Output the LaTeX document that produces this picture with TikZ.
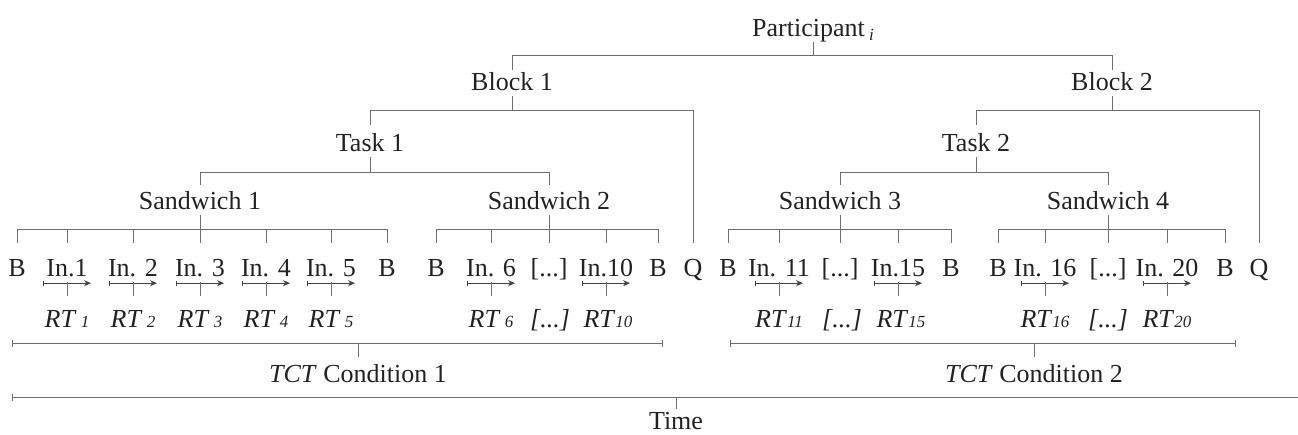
\documentclass[tikz,border=0pt]{standalone}
\usepackage{fontspec}
\setmainfont{Liberation Serif}
\usepackage{xcolor}
\usetikzlibrary{arrows.meta}

\definecolor{txtgray}{HTML}{222222}
\definecolor{linegray}{HTML}{6E6E6E}

\newcommand{\rtsize}{\fontsize{17}{20}\selectfont}
\newcommand{\rt}[1]{\textit{RT}{\rtsize\itshape#1}}

\begin{document}
\begin{tikzpicture}[x=1pt, y=-1pt,
    lbl/.style={inner sep=0pt, anchor=base, text height=18pt, text depth=6pt,
      font=\fontsize{26}{30}\selectfont, text=txtgray},
    tree/.style={draw=linegray, line width=0.9pt},
    rtarrow/.style={draw=txtgray!85, line width=0.8pt,
      {Bar[width=5pt,line width=0.7pt]}-{Stealth[length=7pt,width=6pt]}},
    span/.style={draw=linegray, line width=0.9pt,
      {Bar[width=7pt,line width=0.8pt]}-{Bar[width=7pt,line width=0.8pt]}}]
      \useasboundingbox (0,0) rectangle (1298,434);

      % Upper levels of the design
      \node[lbl] (par) at (813,36) {Participant\,\raisebox{-4pt}{\rtsize\itshape i}};
      \node[lbl] (blk1) at (512,90) {Block 1};
      \node[lbl] (blk2) at (1112,90) {Block 2};
      \node[lbl] (task1) at (370,151) {Task 1};
      \node[lbl] (task2) at (976,151) {Task 2};
      \node[lbl] (san1) at (200,209) {Sandwich 1};
      \node[lbl] (san2) at (549,209) {Sandwich 2};
      \node[lbl] (san3) at (840,209) {Sandwich 3};
      \node[lbl] (san4) at (1108,209) {Sandwich 4};

      % Trials, breaks and questionnaires
      \node[lbl] (b1) at (17,276) {B};
      \node[lbl] (in1) at (67,276) {In.1};
      \node[lbl] (in2) at (133,276) {In. 2};
      \node[lbl] (in3) at (200,276) {In. 3};
      \node[lbl] (in4) at (266,276) {In. 4};
      \node[lbl] (in5) at (331,276) {In. 5};
      \node[lbl] (b2) at (387,276) {B};

      \node[lbl] (b3) at (436,276) {B};
      \node[lbl] (in6) at (491,276) {In. 6};
      \node[lbl] (d1) at (549,276) {[...]};
      \node[lbl] (in10) at (606,276) {In.10};
      \node[lbl] (b4) at (658,276) {B};
      \node[lbl] (q1) at (693,276) {Q};

      \node[lbl] (b5) at (728,276) {B};
      \node[lbl] (in11) at (779,276) {In. 11};
      \node[lbl] (d2) at (840,276) {[...]};
      \node[lbl] (in15) at (898,276) {In.15};
      \node[lbl] (b6) at (951,276) {B};

      \node[lbl] (b7) at (998,276) {B};
      \node[lbl] (in16) at (1045,276) {In. 16};
      \node[lbl] (d3) at (1108,276) {[...]};
      \node[lbl] (in20) at (1167,276) {In. 20};
      \node[lbl] (b8) at (1225,276) {B};
      \node[lbl] (q2) at (1259,276) {Q};

      % Reaction times
      \node[lbl] (rt1) at (67,327) {\rt{ 1}};
      \node[lbl] (rt2) at (133,327) {\rt{ 2}};
      \node[lbl] (rt3) at (200,327) {\rt{ 3}};
      \node[lbl] (rt4) at (266,327) {\rt{ 4}};
      \node[lbl] (rt5) at (331,327) {\rt{ 5}};
      \node[lbl] (rt6) at (491,327) {\rt{ 6}};
      \node[lbl] (rtd1) at (550,327) {\textit{[...]}};
      \node[lbl] (rt10) at (608,327) {\rt{10}};
      \node[lbl] (rt11) at (779,327) {\rt{11}};
      \node[lbl] (rtd2) at (842,327) {\textit{[...]}};
      \node[lbl] (rt15) at (901,327) {\rt{15}};
      \node[lbl] (rt16) at (1045,327) {\rt{16}};
      \node[lbl] (rtd3) at (1108,327) {\textit{[...]}};
      \node[lbl] (rt20) at (1167,327) {\rt{20}};

      % Conditions and time
      \node[lbl] (cond1) at (358,382) {\textit{TCT} Condition 1};
      \node[lbl] (cond2) at (1034,382) {\textit{TCT} Condition 2};
      \node[lbl] (time) at (676,429) {Time};

      % Tree connectors
      \draw[tree] (par.south) -- ++(0,13) coordinate (p0);
      \draw[tree] ([yshift=2pt]blk1.north) |- (p0) -| ([yshift=2pt]blk2.north);
      \draw[tree] (blk1.south) -- ++(0,14) coordinate (k1);
      \draw[tree] ([yshift=8pt]task1.north) |- (k1) -| ([yshift=15pt]q1.north);
      \draw[tree] (blk2.south) -- ++(0,14) coordinate (k2);
      \draw[tree] ([yshift=8pt]task2.north) |- (k2) -| ([yshift=15pt]q2.north);
      \draw[tree] (task1.south) -- ++(0,15) coordinate (t1);
      \draw[tree] ([yshift=6pt]san1.north) |- (t1) -| ([yshift=6pt]san2.north);
      \draw[tree] (task2.south) -- ++(0,15) coordinate (t2);
      \draw[tree] ([yshift=6pt]san3.north) |- (t2) -| ([yshift=6pt]san4.north);

      % Sandwich bars down to the trials
      \draw[tree] (san1.south) -- ++(0,14) coordinate (s1);
      \draw[tree] (s1 -| b1.north) -- (s1 -| b2.north);
      \foreach \n in {b1,in1,in2,in3,in4,in5,b2}
        \draw[tree] (s1 -| \n.north) -- ([yshift=15pt]\n.north);
      \draw[tree] (san2.south) -- ++(0,14) coordinate (s2);
      \draw[tree] (s2 -| b3.north) -- (s2 -| b4.north);
      \foreach \n in {b3,in6,d1,in10,b4}
        \draw[tree] (s2 -| \n.north) -- ([yshift=15pt]\n.north);
      \draw[tree] (san3.south) -- ++(0,14) coordinate (s3);
      \draw[tree] (s3 -| b5.north) -- (s3 -| b6.north);
      \foreach \n in {b5,in11,d2,in15,b6}
        \draw[tree] (s3 -| \n.north) -- ([yshift=15pt]\n.north);
      \draw[tree] (san4.south) -- ++(0,14) coordinate (s4);
      \draw[tree] (s4 -| b7.north) -- (s4 -| b8.north);
      \foreach \n in {b7,in16,d3,in20,b8}
        \draw[tree] (s4 -| \n.north) -- ([yshift=15pt]\n.north);

      % Trial arrows and their reaction times
      \foreach \n in {1,2,3,4,5,6,10,11,15,16,20} {
        \draw[rtarrow] ([xshift=-24pt,yshift=-1pt]in\n.south) -- ([xshift=24pt,yshift=-1pt]in\n.south);
        \draw[tree] (in\n.south) -- ([yshift=13pt]in\n.south |- rt\n.north);
      }

      % Condition spans and time line
      \coordinate (c1a) at (12,343);
      \coordinate (c1b) at (663,343);
      \coordinate (c2a) at (730,343);
      \coordinate (c2b) at (1236,343);
      \coordinate (ta) at (12,397);
      \coordinate (tb) at (1298,397);
      \draw[span] (c1a) -- (c1b);
      \draw[span] (c2a) -- (c2b);
      \draw[tree, {Bar[width=7pt,line width=0.8pt]}-] (ta) -- (tb);
      \draw[tree] (c1a -| cond1.north) -- ([yshift=7pt]cond1.north);
      \draw[tree] (c2a -| cond2.north) -- ([yshift=7pt]cond2.north);
      \draw[tree] (ta -| time.north) -- ([yshift=2pt]time.north);
    \end{tikzpicture}
\end{document}
